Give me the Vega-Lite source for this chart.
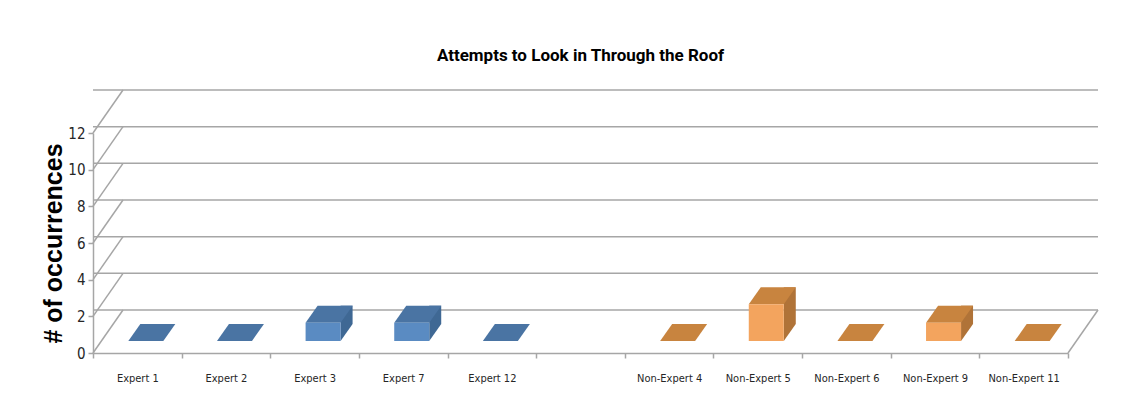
{
  "$schema": "https://vega.github.io/schema/vega-lite/v6.json",
  "autosize": {"type": "none"},
  "width": 975,
  "height": 220,
  "padding": {"left": 93, "top": 133, "right": 73, "bottom": 41},
  "background": "#ffffff",
  "title": {
    "text": "Attempts to Look in Through the Roof",
    "anchor": "middle",
    "frame": "group",
    "font": "Roboto",
    "fontSize": 17,
    "fontWeight": "bold",
    "color": "#000000",
    "offset": 22
  },
  "datasets": {
    "levels": [{"v": 0}, {"v": 2}, {"v": 4}, {"v": 6}, {"v": 8}, {"v": 10}, {"v": 12}],
    "counts": [
      {"participant": "Expert 1", "group": "Expert", "n": 0},
      {"participant": "Expert 2", "group": "Expert", "n": 0},
      {"participant": "Expert 3", "group": "Expert", "n": 1},
      {"participant": "Expert 7", "group": "Expert", "n": 1},
      {"participant": "Expert 12", "group": "Expert", "n": 0},
      {"participant": "Non-Expert  4", "group": "Non-Expert", "n": 0},
      {"participant": "Non-Expert  5", "group": "Non-Expert", "n": 2},
      {"participant": "Non-Expert  6", "group": "Non-Expert", "n": 0},
      {"participant": "Non-Expert  9", "group": "Non-Expert", "n": 1},
      {"participant": "Non-Expert 11", "group": "Non-Expert", "n": 0}
    ]
  },
  "layer": [
    {
      "description": "back wall gridlines, pushed back in depth",
      "data": {"name": "levels"},
      "mark": {"type": "rule", "xOffset": 30, "x2Offset": 30, "yOffset": -43, "stroke": "#a6a6a6", "strokeWidth": 1.5},
      "encoding": {
        "y": {"field": "v", "type": "quantitative", "title": "# of occurrences", "scale": {"domain": [0, 12], "nice": false}}
      }
    },
    {
      "description": "side wall edges joining the axis to the back wall",
      "data": {"name": "levels"},
      "mark": {"type": "point", "shape": "M0,0L30,-43", "size": 4, "filled": false, "stroke": "#a6a6a6", "strokeWidth": 1.5, "opacity": 1},
      "encoding": {
        "x": {"datum": "Expert 1", "type": "nominal", "bandPosition": 0, "title": null,
              "scale": {"domain": ["Expert 1", "Expert 2", "Expert 3", "Expert 7", "Expert 12", " ", "Non-Expert  4", "Non-Expert  5", "Non-Expert  6", "Non-Expert  9", "Non-Expert 11"]}},
        "y": {"field": "v", "type": "quantitative", "title": "# of occurrences"}
      }
    },
    {
      "description": "right edge of the floor",
      "data": {"name": "levels"},
      "transform": [{"filter": "datum.v === 0"}],
      "mark": {"type": "point", "shape": "M0,0L30,-43", "size": 4, "filled": false, "stroke": "#a6a6a6", "strokeWidth": 1.5, "opacity": 1},
      "encoding": {
        "x": {"datum": "Non-Expert 11", "type": "nominal", "bandPosition": 1, "title": null,
              "scale": {"domain": ["Expert 1", "Expert 2", "Expert 3", "Expert 7", "Expert 12", " ", "Non-Expert  4", "Non-Expert  5", "Non-Expert  6", "Non-Expert  9", "Non-Expert 11"]}},
        "y": {"field": "v", "type": "quantitative", "title": "# of occurrences"}
      }
    },
    {
      "description": "right side face of each column",
      "data": {"name": "counts"},
      "transform": [{"filter": "datum.n > 0"}],
      "mark": {"type": "bar", "width": 12, "xOffset": 32, "yOffset": -29, "y2Offset": -29},
      "encoding": {
        "x": {"field": "participant", "type": "nominal", "title": null, "sort": null,
              "scale": {"domain": ["Expert 1", "Expert 2", "Expert 3", "Expert 7", "Expert 12", " ", "Non-Expert  4", "Non-Expert  5", "Non-Expert  6", "Non-Expert  9", "Non-Expert 11"]}},
        "y": {"field": "n", "type": "quantitative", "title": "# of occurrences"},
        "y2": {"datum": 0},
        "fill": {"condition": {"test": "datum.group === 'Expert'", "value": "#3f6894"}, "value": "#b07338"}
      }
    },
    {
      "description": "lower corner of each side face",
      "data": {"name": "counts"},
      "transform": [{"filter": "datum.n > 0"}],
      "mark": {"type": "point", "shape": "M17.5,-17L29.5,-17L17.5,0Z", "size": 4, "filled": true, "strokeWidth": 0, "opacity": 1, "xOffset": 8.5, "yOffset": -12},
      "encoding": {
        "x": {"field": "participant", "type": "nominal", "title": null, "sort": null,
              "scale": {"domain": ["Expert 1", "Expert 2", "Expert 3", "Expert 7", "Expert 12", " ", "Non-Expert  4", "Non-Expert  5", "Non-Expert  6", "Non-Expert  9", "Non-Expert 11"]}},
        "y": {"datum": 0, "type": "quantitative", "title": "# of occurrences"},
        "fill": {"condition": {"test": "datum.group === 'Expert'", "value": "#3f6894"}, "value": "#b07338"}
      }
    },
    {
      "description": "top face of each column",
      "data": {"name": "counts"},
      "mark": {"type": "point", "shape": "M-17.5,0L17.5,0L29.5,-17L-5.5,-17Z", "size": 4, "filled": true, "strokeWidth": 0, "opacity": 1, "xOffset": 8.5, "yOffset": -12},
      "encoding": {
        "x": {"field": "participant", "type": "nominal", "title": null, "sort": null,
              "scale": {"domain": ["Expert 1", "Expert 2", "Expert 3", "Expert 7", "Expert 12", " ", "Non-Expert  4", "Non-Expert  5", "Non-Expert  6", "Non-Expert  9", "Non-Expert 11"]}},
        "y": {"field": "n", "type": "quantitative", "title": "# of occurrences"},
        "fill": {"condition": {"test": "datum.group === 'Expert'", "value": "#4a74a3"}, "value": "#c8843f"}
      }
    },
    {
      "description": "front face of each column",
      "data": {"name": "counts"},
      "mark": {"type": "bar", "width": 35, "xOffset": 8.5, "yOffset": -12, "y2Offset": -12},
      "encoding": {
        "x": {"field": "participant", "type": "nominal", "title": null, "sort": null,
              "scale": {"domain": ["Expert 1", "Expert 2", "Expert 3", "Expert 7", "Expert 12", " ", "Non-Expert  4", "Non-Expert  5", "Non-Expert  6", "Non-Expert  9", "Non-Expert 11"]}},
        "y": {"field": "n", "type": "quantitative", "title": "# of occurrences"},
        "y2": {"datum": 0},
        "fill": {"condition": {"test": "datum.group === 'Expert'", "value": "#5a8bc2"}, "value": "#f3a45e"}
      }
    }
  ],
  "resolve": {"scale": {"x": "shared", "y": "shared"}},
  "config": {
    "view": {"stroke": null},
    "scale": {"bandPaddingInner": 0, "bandPaddingOuter": 0},
    "axisX": {
      "title": null,
      "labelAngle": 0,
      "tickBand": "extent",
      "grid": false,
      "domainColor": "#a6a6a6",
      "domainWidth": 1.5,
      "tickColor": "#a6a6a6",
      "tickSize": 5,
      "tickWidth": 1.5,
      "labelFont": "DejaVu Sans Condensed",
      "labelFontSize": 11,
      "labelColor": "#262626",
      "labelPadding": 14
    },
    "axisY": {
      "values": [0, 2, 4, 6, 8, 10, 12],
      "grid": false,
      "domainColor": "#a6a6a6",
      "domainWidth": 1.5,
      "tickColor": "#a6a6a6",
      "tickSize": 5,
      "tickWidth": 1.5,
      "labelFont": "DejaVu Sans Condensed",
      "labelFontSize": 15,
      "labelColor": "#262626",
      "labelPadding": 3,
      "titleFont": "Liberation Sans",
      "titleFontSize": 25,
      "titleFontWeight": "bold",
      "titleColor": "#000000",
      "titlePadding": 1
    }
  },
  "encoding": {}
}
